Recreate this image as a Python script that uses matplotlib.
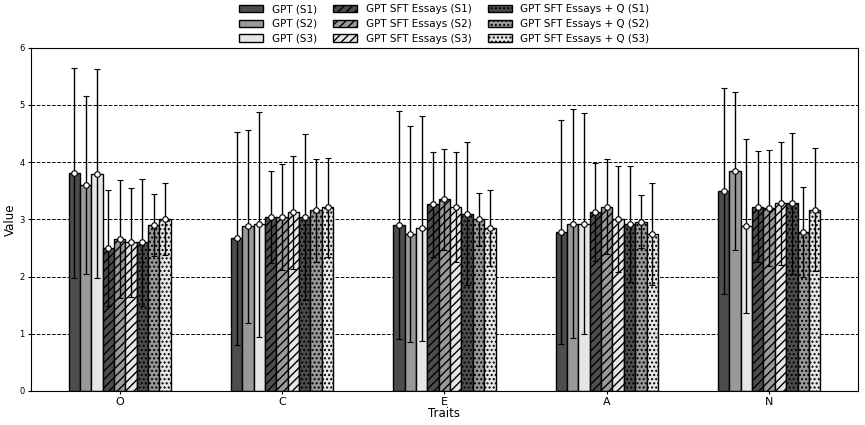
import matplotlib
matplotlib.use("Agg")
import matplotlib.pyplot as plt
import numpy as np

traits = ["O", "C", "E", "A", "N"]
series = ["GPT (S1)", "GPT (S2)", "GPT (S3)",
          "GPT SFT Essays (S1)", "GPT SFT Essays (S2)", "GPT SFT Essays (S3)",
          "GPT SFT Essays + Q (S1)", "GPT SFT Essays + Q (S2)", "GPT SFT Essays + Q (S3)"]

# means per series, across traits O, C, E, A, N
gpt_s1 = [3.81, 2.67, 2.90, 2.78, 3.50]
gpt_s2 = [3.60, 2.88, 2.74, 2.92, 3.84]
gpt_s3 = [3.80, 2.91, 2.84, 2.92, 2.89]
sft_s1 = [2.50, 3.04, 3.26, 3.13, 3.22]
sft_s2 = [2.65, 3.04, 3.35, 3.22, 3.20]
sft_s3 = [2.60, 3.12, 3.21, 3.01, 3.28]
sftq_s1 = [2.60, 3.04, 3.10, 2.92, 3.28]
sftq_s2 = [2.90, 3.16, 3.00, 2.96, 2.78]
sftq_s3 = [3.00, 3.21, 2.85, 2.75, 3.17]

# standard deviations
gpt_s1_sd = [1.83, 1.86, 1.99, 1.95, 1.80]
gpt_s2_sd = [1.56, 1.69, 1.89, 2.00, 1.38]
gpt_s3_sd = [1.83, 1.96, 1.96, 1.93, 1.52]
sft_s1_sd = [1.02, 0.80, 0.91, 0.85, 0.97]
sft_s2_sd = [1.03, 0.92, 0.88, 0.83, 1.02]
sft_s3_sd = [0.95, 0.99, 0.96, 0.93, 1.08]
sftq_s1_sd = [1.11, 1.45, 1.25, 1.01, 1.23]
sftq_s2_sd = [0.54, 0.90, 0.46, 0.46, 0.78]
sftq_s3_sd = [0.63, 0.87, 0.67, 0.89, 1.07]

means = [gpt_s1, gpt_s2, gpt_s3, sft_s1, sft_s2, sft_s3, sftq_s1, sftq_s2, sftq_s3]
sds = [gpt_s1_sd, gpt_s2_sd, gpt_s3_sd, sft_s1_sd, sft_s2_sd, sft_s3_sd,
       sftq_s1_sd, sftq_s2_sd, sftq_s3_sd]

colors = ["#4d4d4d", "#999999", "#e6e6e6"] * 3
hatches = [None] * 3 + ["////"] * 3 + ["...."] * 3

fig = plt.figure(figsize=(8.65, 4.25), dpi=100)
ax = fig.add_axes([0.0358, 0.08, 0.956, 0.8078])
ax.set_axisbelow(True)
ax.yaxis.grid(True, linestyle="--", color="black", linewidth=0.7)

x = np.arange(len(traits))
width = 0.07
n = len(series)
for i in range(n):
    pos = x + (i - (n - 1) / 2) * width
    ax.bar(pos, means[i], width, color=colors[i], edgecolor="black",
           hatch=hatches[i], linewidth=1.0, label=series[i])
    ax.errorbar(pos, means[i], yerr=sds[i], fmt="o", color="black",
                ecolor="black", elinewidth=1.0, capsize=2.5, capthick=1.0,
                markersize=4, markerfacecolor="white", markeredgecolor="black",
                markeredgewidth=0.8)

ax.set_ylim(0, 6)
ax.set_xticks(x)
ax.set_xticklabels(traits, fontsize=8)
ax.tick_params(axis="y", labelsize=6, length=2.5, pad=2)
ax.tick_params(axis="x", length=2.5, pad=2)
ax.set_xlabel("Traits", fontsize=8.5, labelpad=0)
ax.set_ylabel("Value", fontsize=8.5, labelpad=2)

ax.legend(loc="lower center", bbox_to_anchor=(0.5, 1.0), ncol=3, frameon=False,
          fontsize=7.5, handlelength=2.3, columnspacing=1.6, labelspacing=0.45,
          borderaxespad=0.0)

fig.savefig("out.png", dpi=100)
